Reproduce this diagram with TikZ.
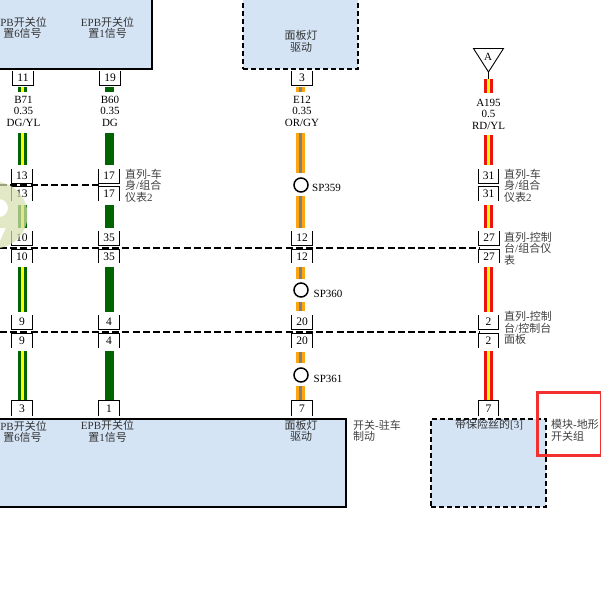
\documentclass[tikz,border=0pt]{standalone}
\usepackage{fontspec}
\setmainfont{Liberation Serif}
\newfontfamily\cjk{Noto Sans CJK SC}
\newcommand\zh[1]{{\cjk #1}}
\definecolor{panel}{HTML}{D4E4F5}
\definecolor{dgreen}{HTML}{006400}
\definecolor{wyel}{HTML}{FFFF00}
\definecolor{worg}{HTML}{FFA50F}
\definecolor{wgry}{HTML}{808080}
\definecolor{wred}{HTML}{EE1111}
\definecolor{frame}{HTML}{F23030}
\definecolor{wm}{HTML}{D8E0B0}
\tikzset{
  wdgyl/.style={draw=dgreen,double=wyel,double distance=3.4pt,line width=2.8pt},
  wdg/.style={draw=dgreen,line width=9pt},
  worgy/.style={draw=worg,double=wgry,double distance=3.4pt,line width=2.8pt},
  wrdyl/.style={draw=wred,double=wyel,double distance=3.4pt,line width=2.8pt},
  pinlabel/.style={inner sep=0pt,font=\fontsize{11.5}{11.5}\selectfont},
  wirelabel/.style={inner sep=0pt,align=center,font=\fontsize{11}{11.5}\selectfont},
  cjklabel/.style={inner sep=0pt,align=center,text=black!80,font=\fontsize{11}{11.5}\selectfont},
  sidelabel/.style={inner sep=0pt,anchor=north west,align=left,text=black!75,font=\fontsize{11}{11.5}\selectfont},
  splabel/.style={inner sep=0pt,anchor=west,font=\fontsize{11}{11}\selectfont},
  splice/.style={draw=black,fill=white,circle,line width=1.5pt,minimum size=14pt,inner sep=0pt},
  solidbox/.style={draw=black,fill=panel,line width=2pt},
  dashbox/.style={draw=black,fill=panel,line width=2.4pt,dash pattern=on 5pt off 3pt},
  busline/.style={draw=black,line width=1.4pt,dash pattern=on 7pt off 3.2pt},
  pin/.style={line width=.9pt,draw=black},
}
% \wseg{style}{name}{x}{y1}{y2}
\newcommand\wseg[5]{\coordinate (#2a) at (#3,#4);\coordinate (#2b) at (#3,#5);\draw[#1] (#2a) -- (#2b);}
% U-shaped pin: closed at the bottom
\newcommand\pinU[5]{\node[pinlabel,minimum width=20pt,minimum height=#5pt-#4pt] (#1) at (#3,{(#4+#5)/2}) {#2};
  \draw[pin] (#1.north west) -- (#1.south west) -- (#1.south east) -- (#1.north east);}
% inverted U: closed at the top
\newcommand\pinN[5]{\node[pinlabel,minimum width=20pt,minimum height=#5pt-#4pt] (#1) at (#3,{(#4+#5)/2}) {#2};
  \draw[pin] (#1.south west) -- (#1.north west) -- (#1.north east) -- (#1.south east);}
\begin{document}
\begin{tikzpicture}[x=1pt,y=-1pt]
\useasboundingbox (0,0) rectangle (601,603);
\fill[white] (0,0) rectangle (601,603);
% top blocks
\node[solidbox,minimum width=172pt,minimum height=90pt,inner sep=0pt] (topleft) at (66,24) {};
\node[dashbox,minimum width=115pt,minimum height=90pt,inner sep=0pt] (topmid) at (300.5,24) {};
\node[cjklabel,anchor=east] (t1) at (47,22.5) {PB\zh{开关位}};
\node[cjklabel] (t1b) at (22.5,33.5) {\zh{置}6\zh{信号}};
\node[cjklabel] (t2) at (107.5,28) {EPB\zh{开关位}\\\zh{置}1\zh{信号}};
\node[cjklabel] (t3) at (301,41.5) {\zh{面板灯}\\\zh{驱动}};
% bottom blocks
\node[solidbox,minimum width=376pt,minimum height=88pt,inner sep=0pt] (botleft) at (158,463) {};
\node[dashbox,minimum width=115pt,minimum height=88pt,inner sep=0pt] (botright) at (488.5,463) {};
\node[cjklabel,anchor=east] (b1) at (47,426) {PB\zh{开关位}};
\node[cjklabel] (b1b) at (22.5,437.5) {\zh{置}6\zh{信号}};
\node[cjklabel] (b2) at (107.5,431.5) {EPB\zh{开关位}\\\zh{置}1\zh{信号}};
\node[cjklabel] (b3) at (301,431) {\zh{面板灯}\\\zh{驱动}};
\node[cjklabel] (b4) at (489,425) {\zh{带保险丝的}[3]};
\node[sidelabel] (b5) at (353,419.5) {\zh{开关}-\zh{驻车}\\\zh{制动}};
\node[sidelabel] (b6) at (551,419.5) {\zh{模块}-\zh{地形}\\\zh{开关组}};
% bus lines
\coordinate (d1a) at (0,185);\coordinate (d1b) at (100,185);
\coordinate (d2a) at (0,248);\coordinate (d2b) at (480,248);
\coordinate (d3a) at (0,332);\coordinate (d3b) at (480,332);
\draw[busline] (d1a) -- (d1b);
\draw[busline] (d2a) -- (d2b);
\draw[busline] (d3a) -- (d3b);
% column 1
\wseg{wdgyl}{a1}{22.5}{87}{92}
\wseg{wdgyl}{a2}{22.5}{133}{165}
\wseg{wdgyl}{a3}{22.5}{205}{228}
\wseg{wdgyl}{a4}{22.5}{267}{312}
\wseg{wdgyl}{a5}{22.5}{351}{401}
\pinU{p11}{11}{23}{71}{85}
\pinU{p13u}{13}{22}{169}{183}
\pinN{p13d}{13}{22}{187}{201}
\pinU{p10u}{10}{22}{231}{245}
\pinN{p10d}{10}{22}{250}{263}
\pinU{p9u}{9}{22}{315}{329}
\pinN{p9d}{9}{22}{334}{348}
\pinN{p3b}{3}{22}{401}{416}
\node[wirelabel] (l1) at (23.5,111) {B71\\0.35\\DG/YL};
% column 2
\wseg{wdg}{b1}{109.5}{87}{92}
\wseg{wdg}{b2}{109.5}{133}{165}
\wseg{wdg}{b3}{109.5}{205}{228}
\wseg{wdg}{b4}{109.5}{267}{312}
\wseg{wdg}{b5}{109.5}{351}{401}
\pinU{p19}{19}{110}{71}{85}
\pinU{p17u}{17}{109}{169}{183}
\pinN{p17d}{17}{109}{187}{201}
\pinU{p35u}{35}{109}{231}{245}
\pinN{p35d}{35}{109}{250}{263}
\pinU{p4u}{4}{109}{315}{329}
\pinN{p4d}{4}{109}{334}{348}
\pinN{p1b}{1}{109}{401}{416}
\node[wirelabel] (l2) at (110,111) {B60\\0.35\\DG};
\node[sidelabel] (s1) at (125,169) {\zh{直列}-\zh{车}\\\zh{身}/\zh{组合}\\\zh{仪表}2};
% column 3
\wseg{worgy}{c1}{300.5}{87}{92}
\wseg{worgy}{c2}{300.5}{133}{173}
\wseg{worgy}{c3}{300.5}{196}{228}
\wseg{worgy}{c4}{300.5}{267}{279}
\wseg{worgy}{c5}{300.5}{302}{311}
\wseg{worgy}{c6}{300.5}{352}{363}
\wseg{worgy}{c7}{300.5}{386}{401}
\pinU{p3t}{3}{302}{71}{85}
\pinU{p12u}{12}{302}{231}{245}
\pinN{p12d}{12}{302}{250}{263}
\pinU{p20u}{20}{302}{315}{329}
\pinN{p20d}{20}{302}{334}{348}
\pinN{p7a}{7}{302}{401}{416}
\node[wirelabel] (l3) at (302,111) {E12\\0.35\\OR/GY};
\node[splice] (sp1) at (301,185) {};
\node[splice] (sp2) at (301,290) {};
\node[splice] (sp3) at (301,375) {};
\node[splabel] (sl1) at (312,188) {SP359};
\node[splabel] (sl2) at (313.5,294) {SP360};
\node[splabel] (sl3) at (313.5,378.5) {SP361};
% column 4
\coordinate (trl) at (473.5,48.5);\coordinate (trr) at (503.5,48.5);\coordinate (tra) at (488.5,72);\coordinate (trs) at (488.5,79);
\draw[line width=.9pt] (trl) -- (trr) -- (tra) -- cycle;
\draw[line width=.9pt] (tra) -- (trs);
\node[inner sep=0pt,font=\fontsize{11}{11}\selectfont] (tri) at (488,57) {A};
\wseg{wrdyl}{d1}{488.5}{79}{93}
\wseg{wrdyl}{d2}{488.5}{135}{165}
\wseg{wrdyl}{d3}{488.5}{205}{228}
\wseg{wrdyl}{d4}{488.5}{267}{312}
\wseg{wrdyl}{d5}{488.5}{351}{401}
\pinU{p31u}{31}{488.5}{169}{183}
\pinN{p31d}{31}{488.5}{187}{201}
\pinU{p27u}{27}{489}{231}{245}
\pinN{p27d}{27}{489}{250}{263}
\pinU{p2u}{2}{488.5}{315}{329}
\pinN{p2d}{2}{488.5}{334}{348}
\pinN{p7b}{7}{488.5}{401}{416}
\node[wirelabel] (l4) at (488.5,114) {A195\\0.5\\RD/YL};
\node[sidelabel] (s2) at (504,169) {\zh{直列}-\zh{车}\\\zh{身}/\zh{组合}\\\zh{仪表}2};
\node[sidelabel] (s3) at (504,232) {\zh{直列}-\zh{控制}\\\zh{台}/\zh{组合仪}\\\zh{表}};
\node[sidelabel] (s4) at (504,311.5) {\zh{直列}-\zh{控制}\\\zh{台}/\zh{控制台}\\\zh{面板}};
% highlight frame
\draw[frame,line width=3pt] (537.5,392.5) rectangle (601.5,455.5);
% watermark
\begin{scope}[opacity=.72]
  \fill[wm,even odd rule] (-6,215) circle[radius=33.5] (-1,208) circle[radius=9]
     (-1,228) -- (6,228) -- (-1,243) -- cycle;
\end{scope}
\end{tikzpicture}
\end{document}
